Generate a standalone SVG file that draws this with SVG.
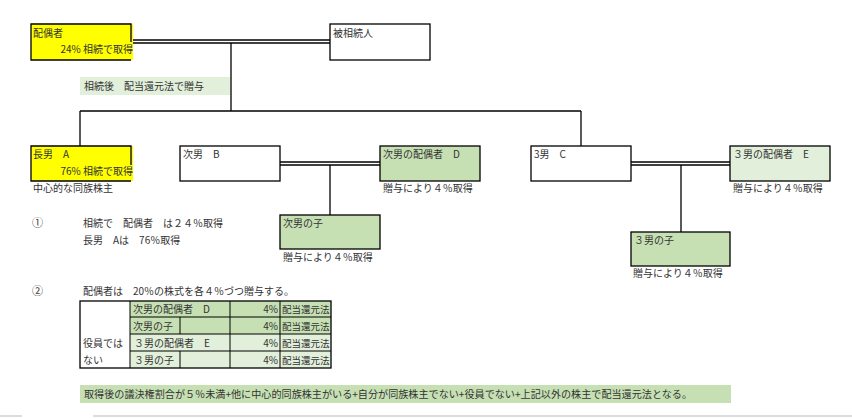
<svg xmlns="http://www.w3.org/2000/svg" width="852" height="418" viewBox="0 0 852 418">
<style>
text{font-family:"Noto Sans CJK JP","Noto Sans",sans-serif;font-size:10px;fill:#333}
.box{stroke:#000;stroke-width:1.3}
.ln{stroke:#000;stroke-width:1.3;fill:none}
.yel{fill:#ffff00}
.wht{fill:#fff}
.grn{fill:#c6e0b4}
.lgr{fill:#e2efda}
.tb{stroke:#000;stroke-width:1;fill:none}
.num{font-size:11px}
</style>
<rect width="852" height="418" fill="#fff"/>
<g id="connectors">
<line class="ln" x1="131" y1="40" x2="330" y2="40"/>
<line class="ln" x1="131" y1="43" x2="330" y2="43"/>
<line class="ln" x1="231" y1="43" x2="231" y2="111"/>
<line class="ln" x1="80" y1="111" x2="581" y2="111"/>
<line class="ln" x1="80" y1="111" x2="80" y2="146"/>
<line class="ln" x1="581" y1="111" x2="581" y2="146"/>
<line class="ln" x1="280" y1="162" x2="380" y2="162"/>
<line class="ln" x1="280" y1="165" x2="380" y2="165"/>
<line class="ln" x1="330" y1="165" x2="330" y2="215"/>
<line class="ln" x1="631" y1="162" x2="730" y2="162"/>
<line class="ln" x1="631" y1="165" x2="730" y2="165"/>
<line class="ln" x1="681" y1="165" x2="681" y2="232"/>
</g>
<g id="spouse">
<rect class="yel" x="31" y="24" width="102" height="36"/>
<path class="ln" d="M131,60 H31 V24 H131 V42"/>
<text x="33" y="37">配偶者</text>
<text x="133" y="53" text-anchor="end">24%  相続で取得</text>
</g>
<g id="deceased">
<rect class="box wht" x="330" y="24" width="100" height="36"/>
<text x="333" y="37">被相続人</text>
</g>
<g id="note-gift">
<rect class="lgr" x="80" y="77" width="150" height="18"/>
<text x="84" y="90">相続後　配当還元法で贈与</text>
</g>
<g id="sonA">
<rect class="yel" x="31" y="146" width="102" height="35"/>
<path class="ln" d="M131,181 H31 V146 H131 V165"/>
<text x="33" y="158">長男　A</text>
<text x="133" y="175" text-anchor="end">76%  相続で取得</text>
<text x="33" y="192">中心的な同族株主</text>
</g>
<g id="sonB">
<rect class="box wht" x="180" y="146" width="100" height="35"/>
<text x="183" y="158">次男　B</text>
</g>
<g id="spouseD">
<rect class="box grn" x="380" y="146" width="100" height="35"/>
<text x="383" y="158">次男の配偶者　D</text>
<text x="383" y="192">贈与により４％取得</text>
</g>
<g id="childB">
<rect class="box grn" x="280" y="215" width="100" height="34"/>
<text x="283" y="227">次男の子</text>
<text x="283" y="261">贈与により４％取得</text>
</g>
<g id="sonC">
<rect class="box wht" x="531" y="146" width="100" height="35"/>
<text x="534" y="158">3男　C</text>
</g>
<g id="spouseE">
<rect class="box lgr" x="730" y="146" width="100" height="35"/>
<text x="733" y="158">３男の配偶者　E</text>
<text x="733" y="192">贈与により４％取得</text>
</g>
<g id="childC">
<rect class="box grn" x="631" y="232" width="99" height="34"/>
<text x="634" y="244">３男の子</text>
<text x="633" y="277">贈与により４％取得</text>
</g>
<g id="notes">
<text class="num" x="32" y="227">①</text>
<text x="83" y="227">相続で　配偶者　は２４％取得</text>
<text x="83" y="244">長男　Aは　76％取得</text>
<text class="num" x="32" y="295">②</text>
<text x="83" y="295">配偶者は　20％の株式を各４％づつ贈与する。</text>
</g>
<g id="table">
<rect class="grn" x="130" y="301" width="201" height="33"/>
<rect class="lgr" x="130" y="334" width="201" height="34"/>
<rect class="tb" x="80" y="301" width="251" height="67" style="stroke-width:1.3"/>
<line class="tb" x1="130" y1="301" x2="130" y2="368"/>
<line class="tb" x1="230" y1="301" x2="230" y2="368"/>
<line class="tb" x1="280" y1="301" x2="280" y2="368"/>
<line class="tb" x1="180" y1="317" x2="180" y2="334"/>
<line class="tb" x1="180" y1="351" x2="180" y2="368"/>
<line class="tb" x1="130" y1="317" x2="331" y2="317"/>
<line class="tb" x1="130" y1="334" x2="331" y2="334"/>
<line class="tb" x1="130" y1="351" x2="331" y2="351"/>
<text x="133" y="313">次男の配偶者　D</text>
<text x="133" y="330">次男の子</text>
<text x="134" y="347">３男の配偶者　E</text>
<text x="134" y="364">３男の子</text>
<text x="83" y="347">役員では</text>
<text x="83" y="364">ない</text>
<text x="278" y="313" text-anchor="end">4%</text>
<text x="278" y="330" text-anchor="end">4%</text>
<text x="278" y="347" text-anchor="end">4%</text>
<text x="278" y="364" text-anchor="end">4%</text>
<text x="282" y="313" style="font-size:9.5px">配当還元法</text>
<text x="282" y="330" style="font-size:9.5px">配当還元法</text>
<text x="282" y="347" style="font-size:9.5px">配当還元法</text>
<text x="282" y="364" style="font-size:9.5px">配当還元法</text>
</g>
<g id="summary">
<rect class="grn" x="80" y="385" width="651" height="18"/>
<text x="84" y="398" textLength="608" lengthAdjust="spacingAndGlyphs">取得後の議決権割合が５％未満+他に中心的同族株主がいる+自分が同族株主でない+役員でない+上記以外の株主で配当還元法となる。</text>
</g>
<rect x="0" y="415" width="22" height="2" fill="#ddd"/>
<rect x="93" y="415" width="759" height="2" fill="#ddd"/>
</svg>
